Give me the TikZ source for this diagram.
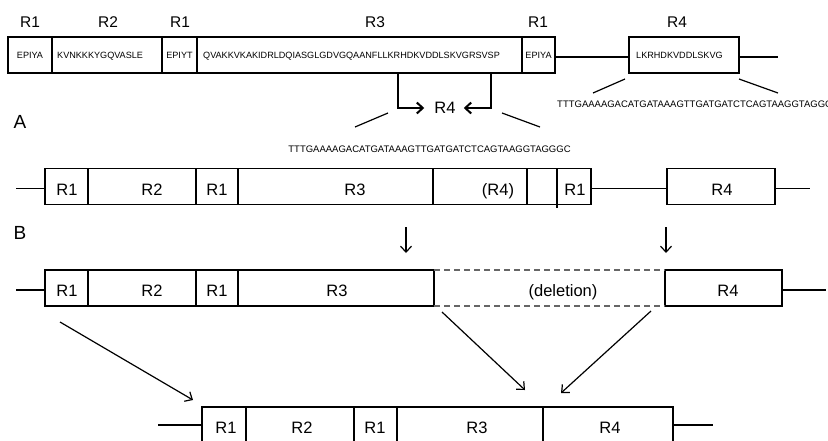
\documentclass[tikz,border=0pt]{standalone}
\usepackage{fontspec}
\setmainfont{Liberation Sans}
\usetikzlibrary{arrows.meta}
% one segment of a domain bar: name, left x, right x, middle y
\newcommand\segbox[4]{\node[seg,minimum width={(#3-#2)*1pt}] (#1) at (#2,#4) {};}
\begin{document}
\begin{tikzpicture}[x=1pt,y=-1pt,
  seg/.style={draw, line width=1.3pt, inner sep=0pt, outer sep=0pt, anchor=west, minimum height=36pt},
  lab/.style={inner sep=0pt, font=\fontsize{16.5}{17}\selectfont, text height=11.8pt, text depth=0pt},
  toplab/.style={inner sep=0pt, font=\fontsize{15.5}{16}\selectfont, text height=11.1pt, text depth=0pt},
  seq/.style={inner sep=0pt, font=\fontsize{9.5}{10}\selectfont, text height=6.8pt, text depth=0pt},
  aa/.style={inner sep=0pt, font=\fontsize{9.1}{10}\selectfont, text height=6.5pt, text depth=0pt},
  big/.style={inner sep=0pt, font=\fontsize{19}{20}\selectfont, text height=13.6pt, text depth=0pt},
  wire/.style={line width=1.3pt},
  slant/.style={line width=1.2pt},
  arr/.style={line width=1.2pt, -{Straight Barb[length=6pt,width=11pt]}},
  boldarr/.style={line width=2pt, -{Straight Barb[length=6pt,width=11pt]}},
  gap/.style={draw=black!60, line width=1.3pt, dash pattern=on 6pt off 4pt}
]
\path[use as bounding box] (0,0) rectangle (828,440);
\clip (0,0) rectangle (828,440);

% ---------- protein with its sequences ----------
\segbox{t1}{8}{52}{55}
\segbox{t2}{52}{162}{55}
\segbox{t3}{162}{197}{55}
\segbox{t4}{197}{522}{55}
\segbox{t5}{522}{555}{55}
\segbox{t6}{629}{739}{55}
\node[aa] (e1) at (t1.center) {EPIYA};
\node[aa,anchor=west] (e2) at ([xshift=5pt]t2.west) {KVNKKKYGQVASLE};
\node[aa] (e3) at (t3.center) {EPIYT};
\node[aa,anchor=west] (e4) at ([xshift=6pt]t4.west) {QVAKKVKAKIDRLDQIASGLGDVGQAANFLLKRHDKVDDLSKVGRSVSP};
\node[aa] (e5) at (t5.center) {EPIYA};
\node[aa,anchor=west] (e6) at ([xshift=7pt]t6.west) {LKRHDKVDDLSKVG};
\coordinate (tend) at (778,57);
\draw[wire] ([yshift=-2pt]t5.east) -- ([yshift=-2pt]t6.west);
\draw[wire] ([yshift=-2pt]t6.east) -- (tend);

\node[toplab] (n1) at (30,22) {R1};
\node[toplab] (n2) at (108,22) {R2};
\node[toplab] (n3) at (180,22) {R1};
\node[toplab] (n4) at (375,22) {R3};
\node[toplab] (n5) at (538,22) {R1};
\node[toplab] (n6) at (677,22) {R4};

% R4 motif inside R3
\node[lab] (m4) at (445,108) {R4};
\coordinate (p1) at (398,73);
\coordinate (p2) at (491,73);
\draw[boldarr] (p1) |- ([xshift=-10pt]m4.west);
\draw[boldarr] (p2) |- ([xshift=8pt]m4.east);
\coordinate (d1a) at (388,113);
\coordinate (d1b) at (355,127);
\coordinate (d2a) at (502,113);
\coordinate (d2b) at (540,127);
\draw[slant] (d1a) -- (d1b);
\draw[slant] (d2a) -- (d2b);
\node[seq] (s1) at (429.5,149) {TTTGAAAAGACATGATAAAGTTGATGATCTCAGTAAGGTAGGGC};

% R4 block with its DNA
\coordinate (f1a) at (625,79);
\coordinate (f1b) at (593,93);
\coordinate (f2a) at (739,79);
\coordinate (f2b) at (778,93);
\draw[slant] (f1a) -- (f1b);
\draw[slant] (f2a) -- (f2b);
\node[seq,anchor=west] (s2) at (557,104) {TTTGAAAAGACATGATAAAGTTGATGATCTCAGTAAGGTAGGGC};

% ---------- panel A ----------
\node[big] (A) at (20,122) {A};
\segbox{a1}{45}{88}{186.5}
\segbox{a2}{88}{196}{186.5}
\segbox{a3}{196}{238}{186.5}
\segbox{a4}{238}{433}{186.5}
\segbox{a5}{433}{527}{186.5}
\segbox{a6}{527}{557}{186.5}
\segbox{a7}{557}{591}{186.5}
\segbox{a8}{667}{775}{186.5}
\draw[wire] (a7.south west) -- ++(0,3);
\coordinate (astart) at (16,188.5);
\coordinate (aend) at (810,188.5);
\draw[wire] (astart) -- ([yshift=-2pt]a1.west);
\draw[wire] ([yshift=-2pt]a7.east) -- ([yshift=-2pt]a8.west);
\draw[wire] ([yshift=-2pt]a8.east) -- (aend);
\node[lab] (la1) at (67,190) {R1};
\node[lab] (la2) at (152,190) {R2};
\node[lab] (la3) at (217,190) {R1};
\node[lab] (la4) at (355,190) {R3};
\node[lab] (la5) at (498,190) {(R4)};
\node[lab] (la7) at (575,190) {R1};
\node[lab] (la8) at (722,190) {R4};

% ---------- panel B ----------
\node[big] (B) at (20,233) {B};
\coordinate (k1a) at (406,227);
\coordinate (k1b) at (406,253);
\coordinate (k2a) at (666,227);
\coordinate (k2b) at (666,253);
\draw[arr] (k1a) -- (k1b);
\draw[arr] (k2a) -- (k2b);

\segbox{b1}{45}{88}{288}
\segbox{b2}{88}{196}{288}
\segbox{b3}{196}{238}{288}
\segbox{b4}{238}{434}{288}
\segbox{b6}{665}{782}{288}
\draw[gap] (b4.north east) -- (b6.north west);
\draw[gap] (b4.south east) -- (b6.south west);
\coordinate (bstart) at (16,290);
\coordinate (bend) at (826,290);
\draw[wire] (bstart) -- ([yshift=-2pt]b1.west);
\draw[wire] ([yshift=-2pt]b6.east) -- (bend);
\node[lab] (lb1) at (67,291) {R1};
\node[lab] (lb2) at (152,291) {R2};
\node[lab] (lb3) at (217,291) {R1};
\node[lab] (lb4) at (337,291) {R3};
\node[lab] (lb5) at (563,291) {(deletion)};
\node[lab] (lb6) at (728,291) {R4};

% recombined product
\coordinate (g1a) at (60,322);
\coordinate (g1b) at (193,400);
\coordinate (g2a) at (442,312);
\coordinate (g2b) at (525,390);
\coordinate (g3a) at (651,311);
\coordinate (g3b) at (561,393);
\draw[arr] (g1a) -- (g1b);
\draw[arr] (g2a) -- (g2b);
\draw[arr] (g3a) -- (g3b);

\segbox{c1}{202}{246}{425}
\segbox{c2}{246}{354}{425}
\segbox{c3}{354}{397}{425}
\segbox{c4}{397}{543}{425}
\segbox{c5}{543}{673}{425}
\coordinate (cstart) at (158,425);
\coordinate (cend) at (713,425);
\draw[wire] (cstart) -- (c1.west);
\draw[wire] (c5.east) -- (cend);
\node[lab] (lc1) at (226,428) {R1};
\node[lab] (lc2) at (302,428) {R2};
\node[lab] (lc3) at (375,428) {R1};
\node[lab] (lc4) at (477,428) {R3};
\node[lab] (lc5) at (610,428) {R4};
\end{tikzpicture}
\end{document}
